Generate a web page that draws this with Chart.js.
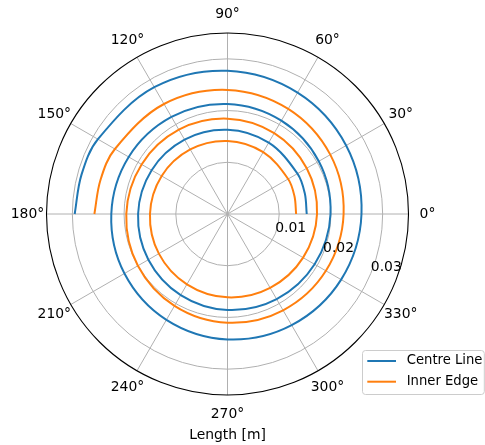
<!DOCTYPE html>
<html>
<head>
<meta charset="utf-8">
<script src="https://cdn.jsdelivr.net/npm/chart.js@4.4.1/dist/chart.umd.min.js"></script>
<style>
  html, body { margin: 0; padding: 0; background: #ffffff; }
  #wrap { width: 485px; height: 445px; position: relative; }
</style>
</head>
<body>
<div id="wrap"><canvas id="chart"></canvas></div>
<script>
// Polar angle of each sample, degrees (counter-clockwise from +x)
const angleDeg = [0, 15, 30, 60, 90, 120, 150, 180, 210, 240, 270, 300, 330,
                  360, 390, 420, 450, 480, 510, 540, 570, 600, 630, 660, 690,
                  720, 750, 780, 810, 840, 870, 885, 900];

// Radius of the centre line at each angle, metres
const centreLine = [0.01532, 0.01547, 0.01562, 0.01593, 0.01628, 0.01661, 0.01694, 0.01729,
                    0.01767, 0.01810, 0.01856, 0.01901, 0.01945, 0.01992, 0.02038, 0.02083,
                    0.02127, 0.02168, 0.02206, 0.02247, 0.02301, 0.02363, 0.02425, 0.02481,
                    0.02537, 0.02591, 0.02649, 0.02709, 0.02769, 0.02831, 0.02893, 0.02924,
                    0.02955];

// Radius of the inner edge at each angle, metres
const innerEdge = [0.01327, 0.01340, 0.01354, 0.01381, 0.01412, 0.01441, 0.01470, 0.01499,
                   0.01533, 0.01570, 0.01611, 0.01649, 0.01688, 0.01731, 0.01769, 0.01806,
                   0.01843, 0.01882, 0.01918, 0.01957, 0.02001, 0.02050, 0.02102, 0.02150,
                   0.02197, 0.02245, 0.02295, 0.02348, 0.02400, 0.02456, 0.02514, 0.02543,
                   0.02574];

const seriesNames = ['Centre Line', 'Inner Edge'];
const seriesColors = ['#1f77b4', '#ff7f0e'];
const radialTicks = [0.01, 0.02, 0.03];
const radialMax = 0.035;
const angleTicks = [0, 30, 60, 90, 120, 150, 180, 210, 240, 270, 300, 330];
const axisTitle = 'Length [m]';

const FONT = '13.9px "DejaVu Sans", sans-serif';
const LEGEND_FONT = '13.2px "DejaVu Sans", sans-serif';
const DEG = Math.PI / 180;

// polar (angle, radius) -> cartesian points for the linear x/y scales
function polarPoints(angles, radii) {
  return radii.map((r, i) => ({
    x: r * Math.cos(angles[i] * DEG),
    y: r * Math.sin(angles[i] * DEG)
  }));
}

function polarFrame(chart) {
  const xs = chart.scales.x, ys = chart.scales.y;
  const cx = xs.getPixelForValue(0);
  const cy = ys.getPixelForValue(0);
  const rpx = v => xs.getPixelForValue(v) - cx;
  return { cx, cy, rpx, R: rpx(radialMax) };
}

// grid rings and spokes underneath the curves
const polarGrid = {
  id: 'polarGrid',
  beforeDatasetsDraw(chart) {
    const { ctx } = chart;
    const { cx, cy, rpx, R } = polarFrame(chart);
    ctx.save();
    ctx.strokeStyle = '#b0b0b0';
    ctx.lineWidth = 1;
    radialTicks.forEach(v => {
      ctx.beginPath();
      ctx.arc(cx, cy, rpx(v), 0, Math.PI * 2);
      ctx.stroke();
    });
    angleTicks.forEach(a => {
      ctx.beginPath();
      ctx.moveTo(cx, cy);
      ctx.lineTo(cx + R * Math.cos(a * DEG), cy - R * Math.sin(a * DEG));
      ctx.stroke();
    });
    ctx.restore();
  },
  afterDatasetsDraw(chart) {
    const { ctx } = chart;
    const { cx, cy, R } = polarFrame(chart);
    ctx.save();
    ctx.strokeStyle = '#000000';
    ctx.lineWidth = 1.1;
    ctx.beginPath();
    ctx.arc(cx, cy, R, 0, Math.PI * 2);
    ctx.stroke();
    ctx.restore();
  }
};

// tick labels, axis title and legend box
const polarLabels = {
  id: 'polarLabels',
  afterDraw(chart) {
    const { ctx } = chart;
    const { cx, cy, rpx, R } = polarFrame(chart);
    ctx.save();
    ctx.font = FONT;
    ctx.fillStyle = '#000000';

    ctx.textAlign = 'center';
    ctx.textBaseline = 'middle';
    const lr = R + 19;
    angleTicks.forEach(a => {
      ctx.fillText(a + '°', cx + lr * Math.cos(a * DEG), cy - lr * Math.sin(a * DEG));
    });

    const la = -22.5 * DEG;
    ctx.textAlign = 'left';
    ctx.textBaseline = 'alphabetic';
    radialTicks.forEach(v => {
      const r = rpx(v);
      ctx.fillText(v.toFixed(2), cx + r * Math.cos(la), cy - r * Math.sin(la) - 2);
    });

    ctx.textAlign = 'center';
    ctx.textBaseline = 'middle';
    ctx.fillText(axisTitle, cx, 435);

    // legend
    const bx = 362.5, by = 350.5, bw = 121.8, bh = 44, rad = 3;
    ctx.beginPath();
    ctx.moveTo(bx + rad, by);
    ctx.lineTo(bx + bw - rad, by);
    ctx.arcTo(bx + bw, by, bx + bw, by + rad, rad);
    ctx.lineTo(bx + bw, by + bh - rad);
    ctx.arcTo(bx + bw, by + bh, bx + bw - rad, by + bh, rad);
    ctx.lineTo(bx + rad, by + bh);
    ctx.arcTo(bx, by + bh, bx, by + bh - rad, rad);
    ctx.lineTo(bx, by + rad);
    ctx.arcTo(bx, by, bx + rad, by, rad);
    ctx.closePath();
    ctx.fillStyle = 'rgba(255,255,255,0.8)';
    ctx.fill();
    ctx.strokeStyle = '#cccccc';
    ctx.lineWidth = 1;
    ctx.stroke();

    ctx.font = LEGEND_FONT;
    chart.data.datasets.forEach((ds, i) => {
      const y = 361 + i * 20.7;
      ctx.strokeStyle = ds.borderColor;
      ctx.lineWidth = 2;
      ctx.beginPath();
      ctx.moveTo(367.3, y);
      ctx.lineTo(396, y);
      ctx.stroke();
      ctx.fillStyle = '#000000';
      ctx.textAlign = 'left';
      ctx.textBaseline = 'middle';
      ctx.fillText(ds.label, 406.7, y);
    });
    ctx.restore();
  }
};

new Chart(document.getElementById('chart'), {
  type: 'scatter',
  data: {
    datasets: [
      {
        label: seriesNames[0],
        data: polarPoints(angleDeg, centreLine),
        borderColor: seriesColors[0],
        backgroundColor: seriesColors[0]
      },
      {
        label: seriesNames[1],
        data: polarPoints(angleDeg, innerEdge),
        borderColor: seriesColors[1],
        backgroundColor: seriesColors[1]
      }
    ].map(ds => Object.assign(ds, {
      showLine: true,
      pointRadius: 0,
      borderWidth: 2,
      tension: 0.35,
      fill: false
    }))
  },
  options: {
    responsive: true,
    maintainAspectRatio: false,
    animation: false,
    layout: { padding: { left: 46.5, right: 76.5, top: 33, bottom: 50 } },
    scales: {
      x: { type: 'linear', min: -radialMax, max: radialMax, display: false },
      y: { type: 'linear', min: -radialMax, max: radialMax, display: false }
    },
    plugins: {
      legend: { display: false },
      tooltip: { enabled: false }
    }
  },
  plugins: [polarGrid, polarLabels]
});
</script>
</body>
</html>
